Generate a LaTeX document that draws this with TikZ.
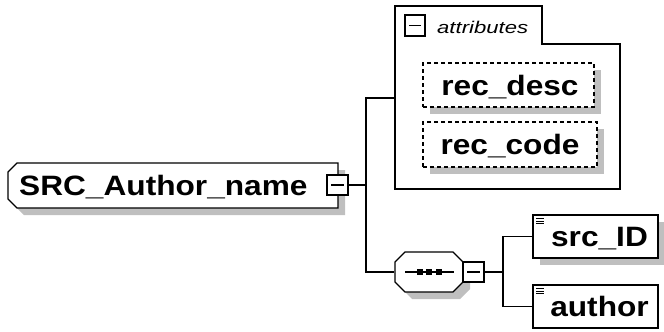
\documentclass[tikz,border=0pt]{standalone}
\usepackage{fontspec}
\setmainfont{Liberation Sans}
\usepackage{graphicx}
\usetikzlibrary{shapes.misc,shadows,positioning}

\newcommand{\wide}[1]{\scalebox{1.13}[1]{#1}}
\newcommand{\typeIcon}[1]{%
    \draw[line width=0.8pt] ([xshift=4pt,yshift=-4pt]#1.north west) -- ++(8,0);
    \draw[line width=0.8pt] ([xshift=4pt,yshift=-6.5pt]#1.north west) -- ++(8,0);
    \draw[line width=0.8pt] ([xshift=4pt,yshift=-9pt]#1.north west) -- ++(8,0);
}

\tikzset{
    xsdtext/.style={font=\fontsize{28}{32}\selectfont\bfseries, text height=20pt, text depth=0pt},
    elembox/.style={draw, line width=1.2pt, fill=white, inner sep=0pt, xsdtext},
    attrbox/.style={draw, line width=1.1pt, dash pattern=on 4pt off 3pt, fill=white, inner sep=0pt, xsdtext},
    xsdshadow/.style={drop shadow={shadow xshift=7pt, shadow yshift=-7pt, fill=black!25, opacity=1}},
    minusbox/.style={draw, line width=1.2pt, fill=white, inner sep=0pt,
        minimum width=21pt, minimum height=20pt,
        path picture={\draw[line width=1.1pt] ([xshift=4pt]path picture bounding box.west) -- ([xshift=-4pt]path picture bounding box.east);}},
    link/.style={line width=1.2pt}
}

\begin{document}
\begin{tikzpicture}[x=1pt, y=-1pt]
    \useasboundingbox (0,0) rectangle (664,332);

    % --- element SRC_Author_name ---
    \node[elembox, chamfered rectangle, chamfered rectangle corners={north west,south west},
          chamfered rectangle xsep=9pt, chamfered rectangle ysep=7pt,
          minimum width=330pt, minimum height=45pt, xsdshadow] (authorname) at (173,185.5) {};
    \node[xsdtext, anchor=base west, inner sep=0pt] (authornametext) at (19,195)
          {\wide{SRC\_Author\_name}};
    \node[minusbox] (authormin) at (337.5,185) {};
    \coordinate (hub) at (366,185);

    % --- attributes ---
    \draw[line width=1.2pt, fill=white] (395,6) -- (542,6) -- (542,44) -- (620,44) -- (620,189) -- (395,189) -- cycle;
    \coordinate (attrs) at (395,98);
    \node[minusbox, minimum width=20pt, minimum height=21pt] (attrmin) at (415,25.5) {};
    \node[font=\fontsize{17}{20}\selectfont\itshape, anchor=base west, inner sep=0pt] (attrlabel) at (437,33)
          {\scalebox{1.3}[1]{attributes}};
    \node[attrbox, minimum width=171pt, minimum height=44pt, xsdshadow] (recdesc) at (508.5,85)
          {\hspace{3pt}\wide{rec\_desc}};
    \node[attrbox, minimum width=174pt, minimum height=45pt, xsdshadow] (reccode) at (510,144.5)
          {\wide{rec\_code}};

    % --- sequence ---
    \node[elembox, chamfered rectangle, chamfered rectangle xsep=10pt, chamfered rectangle ysep=10pt,
          minimum width=68pt, minimum height=40pt, xsdshadow] (seq) at (429,272) {};
    \draw[line width=1.1pt] ([xshift=-24pt]seq.center) -- ([xshift=25pt]seq.center);
    \foreach \dx in {-9,0,10}
        \fill[shift={(seq.center)}] (\dx-2.8,-2.8) rectangle ++(5.6,5.6);
    \node[minusbox] (seqmin) at (473.5,272) {};
    \coordinate (hubseq) at (503,272);

    % --- child elements ---
    \node[elembox, minimum width=125pt, minimum height=43pt, xsdshadow] (srcid) at (595.5,236.5)
          {\hspace{8pt}\wide{src\_ID}};
    \node[elembox, minimum width=125pt, minimum height=43pt] (author) at (595.5,306.5)
          {\hspace{8pt}\wide{author}};
    \typeIcon{srcid}
    \typeIcon{author}

    % --- connectors ---
    \draw[link] (authormin.east) -- (hub);
    \draw[link] (attrs) -| (hub) |- (seq.west);
    \draw[link] (seqmin.east) -- (hubseq);
    \draw[link] (srcid.west) -| (hubseq) |- (author.west);

\end{tikzpicture}
\end{document}
